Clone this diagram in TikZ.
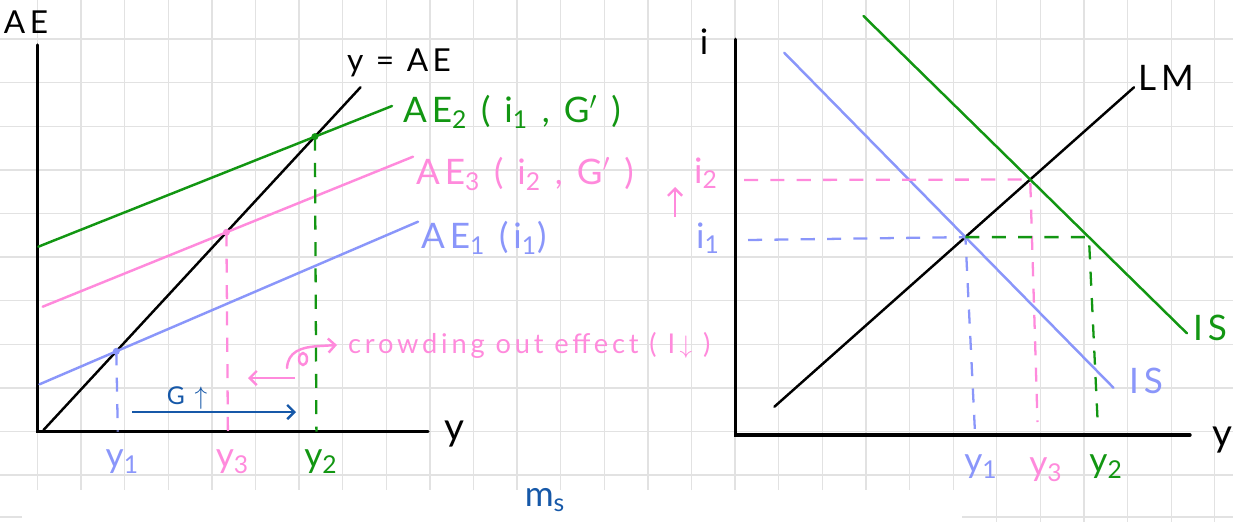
\documentclass[tikz,border=0pt]{standalone}
\usepackage{fontspec}
\setmainfont{Lato}
\newfontfamily\hand[LetterSpace=14]{Lato}
\usetikzlibrary{arrows.meta}
\definecolor{gridline}{RGB}{226,226,226}
\definecolor{isgreen}{RGB}{18,150,18}
\definecolor{ispink}{RGB}{255,138,220}
\definecolor{isblue}{RGB}{138,150,250}
\definecolor{gblue}{RGB}{22,88,168}
\begin{document}
\begin{tikzpicture}[x=0.02cm, y=-0.02cm,
    txt/.style={font=\hand\fontsize{18}{18}\selectfont, inner sep=1pt},
    big/.style={font=\hand\fontsize{22}{22}\selectfont},
    mid/.style={font=\hand\fontsize{20}{20}\selectfont},
    small/.style={font=\hand\fontsize{14}{14}\selectfont},
    ax/.style={line width=1.9pt, line cap=round},
    ln/.style={line width=1.4pt, line cap=round},
    dsh/.style={line width=1.3pt, dash pattern=on 8pt off 7pt},
    barb/.style={-{Straight Barb[length=4pt,width=8pt]}, line width=1.4pt}]
  \useasboundingbox (0,0) rectangle (1233,522);
  % squared paper
  \foreach \k in {0,...,27}
    \draw[gridline, line width=0.7pt] (37.5+43.6*\k,0) -- (37.5+43.6*\k,490);
  \foreach \k in {22,...,27}
    \draw[gridline, line width=0.7pt] (37.5+43.6*\k,490) -- (37.5+43.6*\k,522);
  \foreach \j in {-1,...,9}
    \draw[gridline, line width=0.7pt] (0,431.5-43.6*\j) -- (1233,431.5-43.6*\j);
  \draw[gridline, line width=0.7pt] (0,517) -- (22,517) (962,517) -- (1233,517);

  % AE diagram
  \draw[ax] (37.5,45) coordinate (AEtop) -- (37.5,431.5) coordinate (O) -- (428,431.5) coordinate (Yend);
  \draw[ln] (43.5,430) -- (360.5,87.3);
  \draw[ln, isgreen] (38.3,246.7) -- (392,106);
  \draw[ln, ispink] (42.7,306.7) -- (413,156.7);
  \draw[ln, isblue] (39.5,384.3) -- (418,221.7);
  \foreach \n/\x/\y/\c in
    { 1/116.3/351.3/isblue,
      3/226.4/232.3/ispink,
      2/314.9/136.6/isgreen}
  {
    \coordinate (E\n) at (\x,\y);
    \draw[dsh, \c] (E\n) -- (\x+1.5,431.5);
    \fill[\c] (E\n) circle (2pt);
    \node[txt, mid, text=\c] (ylab\n) at (\x+6,462) {y\textsubscript{\n}};
  }
  \node[txt] (AElab) at (26,22) {AE};
  \node[txt, big] (Ylab) at (454,434) {y};
  \node[txt] (eqlab) at (399,63) {y = AE};
  \node[txt, mid, anchor=west, text=isgreen] (AE2lab) at (401,112) {AE\textsubscript{2} ( i\textsubscript{1} , G$'$ )};
  \node[txt, mid, anchor=west, text=ispink] (AE3lab) at (414,174) {AE\textsubscript{3} ( i\textsubscript{2} , G$'$ )};
  \node[txt, mid, anchor=west, text=isblue] (AE1lab) at (419,238) {AE\textsubscript{1} (i\textsubscript{1})};
  % fiscal push and crowding out
  \draw[barb, gblue] (132,412) coordinate (g0) -- (296,412) coordinate (g1);
  \node[txt, small, text=gblue] (Glab) at (187,398) {G $\uparrow$};
  \draw[barb, ispink] (295,378) coordinate (c0) -- (248,378) coordinate (c1);
  \draw[ln, ispink, -{Straight Barb[length=4pt,width=8pt]}] (287,368) .. controls (288,352) and (300,347) .. (320,346) -- (337,345);
  \draw[ln, ispink] (303,359) ellipse (4 and 6);
  \node[txt, anchor=west, text=ispink, font=\hand\fontsize{15.5}{15.5}\selectfont] (crowd) at (346,345) {crowding out effect ( I\,$\downarrow$ )};
  \node[txt, mid, text=gblue] (ms) at (545,500) {m\textsubscript{s}};

  % IS-LM diagram
  \draw[ax] (735.3,39.3) coordinate (itop) -- (735.3,435) coordinate (O2) -- (1190,435) coordinate (Y2end);
  \draw[ln] (774.4,406.7) -- (1134,87.3);
  \draw[ln, isblue] (784.2,52.7) -- (1113.4,387.7);
  \draw[ln, isgreen] (863.5,16) -- (1186.9,333.3);
  \coordinate (F1) at (965.4,237.1);
  \coordinate (F3) at (1030.2,179.5);
  \coordinate (F2) at (1088.9,237.1);
  \draw[dsh, ispink] (744,180) -- (F3) -- (1037.5,422);
  \draw[dsh, isblue] (748,240) -- (F1) -- (975,433);
  \draw[dsh, isgreen] (F1) -- (F2) -- (1097.7,423);
  \draw[barb, ispink] (675,217) coordinate (u0) -- (675,187) coordinate (u1);
  \foreach \x/\y/\t/\c in
    { 704/42/{i}/black,
      706/173/{i\textsubscript{2}}/ispink,
      708/238/{i\textsubscript{1}}/isblue,
      1166/78/{LM}/black,
      1146/381/{IS}/isblue,
      1210/328/{IS}/isgreen,
      981/467/{y\textsubscript{1}}/isblue,
      1046/470/{y\textsubscript{3}}/ispink,
      1106/467/{y\textsubscript{2}}/isgreen}
    \node[txt, mid, text=\c] (lab\x) at (\x,\y) {\t};
  \node[txt, big] (Ylab2) at (1222,440) {y};
\end{tikzpicture}
\end{document}
